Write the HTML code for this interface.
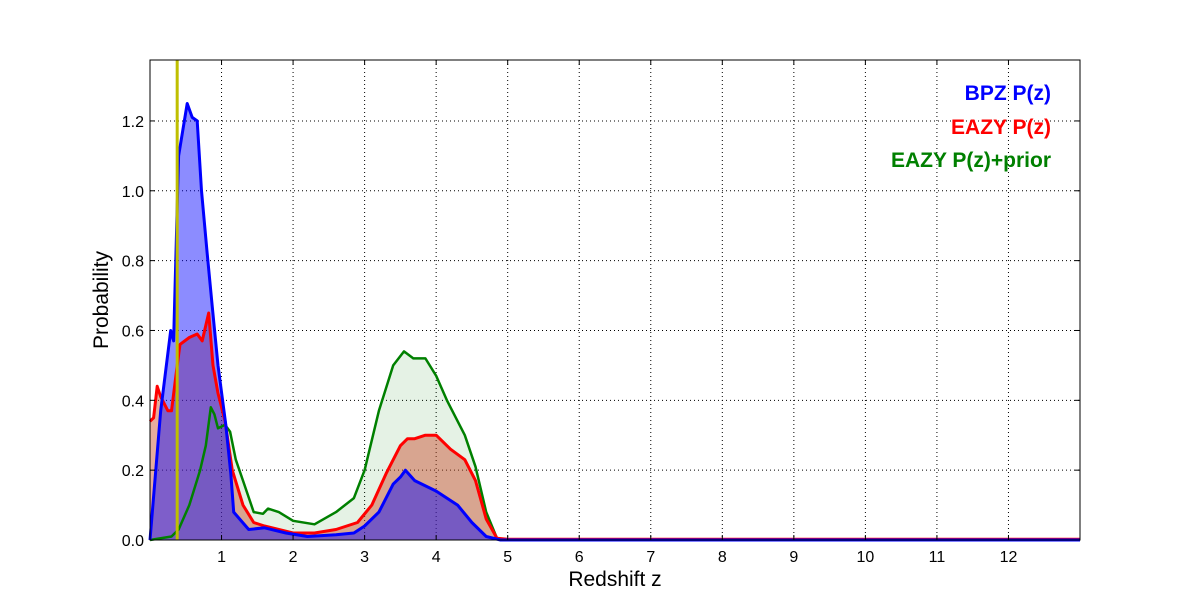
<!DOCTYPE html>
<html><head><meta charset="utf-8"><style>
body{margin:0;background:#fff;}
svg{display:block;font-family:"Liberation Sans","DejaVu Sans",sans-serif;}
</style></head><body>
<svg id="chart" width="1200" height="600">
<rect x="0" y="0" width="1200" height="600" fill="#fff"/>
<g id="grid"></g>
<g id="series"></g>
<g id="axes"></g>
<text x="615" y="586" font-size="21" text-anchor="middle">Redshift z</text>
<text transform="translate(108,300) rotate(-90)" font-size="21" text-anchor="middle">Probability</text>
<g font-size="21" font-weight="bold" text-anchor="end">
<text x="1051" y="100" fill="#0000ff">BPZ P(z)</text>
<text x="1051" y="134" fill="#ff0000">EAZY P(z)</text>
<text x="1051" y="167" fill="#008000">EAZY P(z)+prior</text>
</g>
</svg>
<script>
const xTicks=[1,2,3,4,5,6,7,8,9,10,11,12];
const yTicks=[0.0,0.2,0.4,0.6,0.8,1.0,1.2];
const specZ=0.38;
const bpzZ=[0,0.15,0.29,0.33,0.4,0.52,0.59,0.66,0.72,0.8,0.87,0.95,1.06,1.13,1.17,1.38,1.6,1.9,2.2,2.6,2.85,3.0,3.2,3.4,3.5,3.57,3.7,4.0,4.3,4.5,4.7,4.9,13];
const bpzP=[0,0.37,0.6,0.57,1.1,1.25,1.21,1.2,1.0,0.82,0.67,0.5,0.33,0.19,0.08,0.03,0.035,0.02,0.01,0.015,0.02,0.04,0.08,0.16,0.18,0.2,0.17,0.14,0.1,0.05,0.01,0,0];
const eazyZ=[0,0.05,0.1,0.15,0.25,0.3,0.38,0.42,0.55,0.66,0.73,0.82,0.88,0.95,1.05,1.15,1.3,1.45,1.6,2.0,2.3,2.6,2.9,3.1,3.3,3.5,3.6,3.7,3.85,4.0,4.2,4.4,4.55,4.7,4.85,5,13];
const eazyP=[0.34,0.35,0.44,0.41,0.37,0.37,0.5,0.56,0.58,0.59,0.57,0.65,0.5,0.42,0.34,0.2,0.1,0.05,0.04,0.02,0.02,0.03,0.05,0.1,0.19,0.27,0.29,0.29,0.3,0.3,0.26,0.23,0.17,0.06,0.005,0.002,0.002];
const priorZ=[0,0.3,0.4,0.55,0.7,0.78,0.85,0.9,0.95,1.05,1.12,1.2,1.3,1.45,1.58,1.65,1.8,2.0,2.3,2.6,2.85,3.0,3.2,3.4,3.55,3.68,3.85,4.0,4.15,4.4,4.55,4.7,4.85,5,13];
const priorP=[0,0.01,0.03,0.1,0.2,0.27,0.38,0.36,0.32,0.33,0.31,0.23,0.17,0.08,0.075,0.09,0.08,0.055,0.045,0.08,0.12,0.2,0.37,0.5,0.54,0.52,0.52,0.47,0.4,0.3,0.21,0.08,0.005,0,0];

const L=150,R=1080,T=60,B=540,XMAX=13,YMAX=1.3745;
const sx=v=>L+(R-L)*v/XMAX;
const sy=v=>B-(B-T)*v/YMAX;
const NS='http://www.w3.org/2000/svg';
function mk(tag,attrs,parent){const e=document.createElementNS(NS,tag);for(const k in attrs)e.setAttribute(k,attrs[k]);parent.appendChild(e);return e;}
const grid=document.getElementById('grid'),ser=document.getElementById('series'),ax=document.getElementById('axes');
xTicks.forEach(t=>{
  const l=mk('line',{x1:sx(t),x2:sx(t),y1:T,y2:B,stroke:'#000','stroke-width':1,'stroke-dasharray':'1,3'},grid);
  
  
  const tx=mk('text',{x:sx(t),y:B+22,'font-size':16,'text-anchor':'middle'},ax);
  tx.textContent=t;
  
  
  mk('line',{x1:sx(t),x2:sx(t),y1:B,y2:B-5,stroke:'#000'},ax);
  mk('line',{x1:sx(t),x2:sx(t),y1:T,y2:T+5,stroke:'#000'},ax);
});
yTicks.forEach(t=>{
  if(t>0){const l=mk('line',{x1:L,x2:R,y1:sy(t),y2:sy(t),stroke:'#000','stroke-width':1,'stroke-dasharray':'1,3'},grid);
  
  }
  const tx=mk('text',{x:L-6,y:sy(t)+6,'font-size':16,'text-anchor':'end'},ax);
  tx.textContent=t.toFixed(1);
  
  
  mk('line',{x1:L,x2:L+5,y1:sy(t),y2:sy(t),stroke:'#000'},ax);
  mk('line',{x1:R,x2:R-5,y1:sy(t),y2:sy(t),stroke:'#000'},ax);
});
function pts(zs,ps){return zs.map((z,i)=>sx(z).toFixed(1)+','+sy(ps[i]).toFixed(1));}
function area(zs,ps,fill,stroke,name){
  const p=pts(zs,ps);
  const a=mk('path',{d:'M'+sx(zs[0])+','+B+' L'+p.join(' L')+' L'+sx(zs[zs.length-1])+','+B+' Z',fill:fill,stroke:'none'},ser);
  
  
  return p;
}
function line(p,stroke,w,name){
  const l=mk('path',{d:'M'+p.join(' L'),fill:'none',stroke:stroke,'stroke-width':w,'stroke-linejoin':'round'},ser);
  
  
}
const pg=area(priorZ,priorP,'rgba(0,128,0,0.1)','#008000','eazy-prior');
const pr=area(eazyZ,eazyP,'rgba(200,70,40,0.45)','#f00','eazy');
const pb=area(bpzZ,bpzP,'rgba(0,0,255,0.45)','#00f','bpz');
line(pg,'#008000',2.5,'eazy-prior');
line(pr,'#ff0000',3,'eazy');
line(pb,'#0000ff',3,'bpz');
const sz=mk('line',{x1:sx(specZ),x2:sx(specZ),y1:T,y2:B,stroke:'#bfbf00','stroke-width':3},ser);


const fr=mk('rect',{x:L,y:T,width:R-L,height:B-T,fill:'none',stroke:'#000','stroke-width':1},ax);


</script>
</body></html>
